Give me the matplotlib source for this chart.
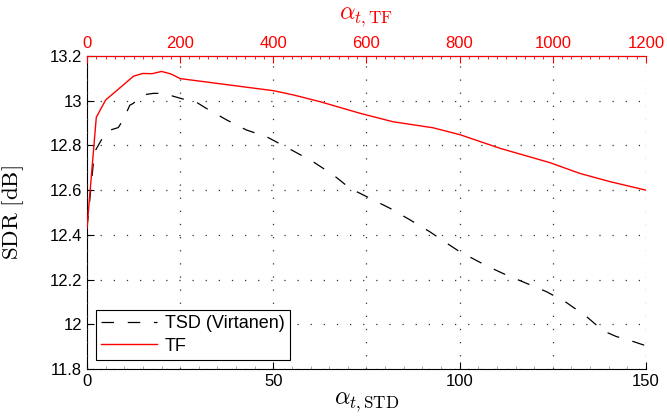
import numpy as np
import matplotlib
matplotlib.use("Agg")
import matplotlib.pyplot as plt
from matplotlib.ticker import MultipleLocator

plt.rcParams['font.family'] = ['Liberation Sans', 'DejaVu Sans']
plt.rcParams['mathtext.fontset'] = 'cm'

# TSD (Virtanen), bottom axis alpha_t,STD
tsd_x = [0, 2, 4.4, 5.7, 8.4, 9.7, 11.5, 12.4, 15, 17.8, 20.5, 26.7, 29.4, 32, 37.5,
         42.8, 48.2, 55.3, 60.7, 66.1, 70.6, 75.9, 81.3, 86.7, 92, 96.9, 100,
         107.2, 112.6, 118, 123.3, 128.7, 134.1, 138.5, 142.1, 144.8, 150]
tsd_y = [12.43, 12.77, 12.84, 12.866, 12.88, 12.914, 12.98, 12.988, 13.026, 13.033, 13.033,
         13.003, 12.993, 12.966, 12.914, 12.869, 12.839, 12.776, 12.727, 12.668, 12.608,
         12.564, 12.519, 12.467, 12.414, 12.359, 12.325, 12.262, 12.22, 12.183, 12.146,
         12.097, 12.034, 11.971, 11.945, 11.933, 11.904]

# TF, top axis alpha_t,TF
tf_x = [0, 20, 40, 100, 120, 140, 160, 180, 200, 400, 443, 500, 586, 657, 743,
        801, 887, 994, 1058, 1123, 1200]
tf_y = [12.43, 12.926, 13.003, 13.11, 13.122, 13.121, 13.131, 13.12, 13.099, 13.045,
        13.026, 12.996, 12.944, 12.906, 12.879, 12.848, 12.787, 12.723, 12.675, 12.638, 12.6]

yticks = [11.8, 12, 12.2, 12.4, 12.6, 12.8, 13, 13.2]
ytick_labels = ['11.8', '12', '12.2', '12.4', '12.6', '12.8', '13', '13.2']

fig = plt.figure(figsize=(6.67, 4.19), dpi=100)
ax = fig.add_axes([0.1304, 0.1193, 0.838, 0.747])
ax2 = ax.twiny()

l1, = ax.plot(tsd_x, tsd_y, color='black', ls=(0, (10, 11)), lw=0.9, label='TSD (Virtanen)')
l2, = ax2.plot(tf_x, tf_y, color='red', lw=1.0, label='TF')

ax.set_xlim(0, 150)
ax.set_ylim(11.8, 13.2)
ax2.set_xlim(0, 1200)

ax.xaxis.set_major_locator(MultipleLocator(50))
ax.xaxis.set_minor_locator(MultipleLocator(5))
ax.set_yticks(yticks)
ax.set_yticklabels(ytick_labels)
ax2.xaxis.set_major_locator(MultipleLocator(200))
ax2.xaxis.set_minor_locator(MultipleLocator(20))

grid_kw = dict(color='0.2', ls=(0, (1, 9.5)), lw=0.9)
ax.yaxis.grid(True, **grid_kw)
ax2.xaxis.grid(True, **grid_kw)

for a in (ax, ax2):
    a.spines['right'].set_visible(False)
ax2.spines['top'].set_color('red')
ax2.spines['left'].set_visible(False)
ax2.spines['bottom'].set_visible(False)

ax.tick_params(axis='both', which='both', direction='in', labelsize=12, top=False, right=False)
ax.tick_params(which='major', length=5)
ax.tick_params(which='minor', length=2.5, color='0.6')
ax.tick_params(axis='y', which='minor', left=False)
ax2.tick_params(axis='x', which='both', direction='in', colors='red', labelsize=12)
ax2.tick_params(which='major', length=5)
ax2.tick_params(which='minor', length=2.5)

ax.set_xlabel(r'$\alpha_{t,\mathrm{STD}}$', fontsize=17.5, labelpad=1)
ax.set_ylabel(r'$\mathrm{SDR\ [dB]}$', fontsize=16.5, labelpad=17)
ax2.set_xlabel(r'$\alpha_{t,\mathrm{TF}}$', fontsize=17.5, color='red', labelpad=12)

# legend on the top axes so the grid does not show through it
leg = ax2.legend(handles=[l1, l2], loc='lower left', fontsize=13, handlelength=3.1,
                 handletextpad=0.4, fancybox=False, framealpha=1, edgecolor='black',
                 borderaxespad=0.5, borderpad=0.3, labelspacing=0.3)
leg.get_frame().set_linewidth(0.8)

fig.savefig('out.png', dpi=100)
